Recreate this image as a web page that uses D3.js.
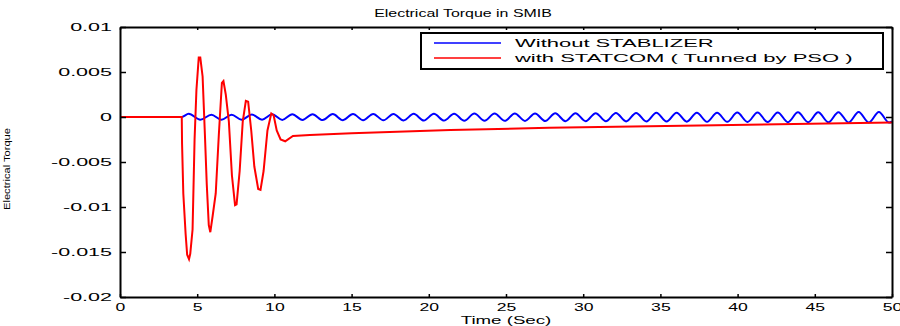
<!DOCTYPE html>
<html>
<head>
<script type="text/javascript" src="https://cdn.jsdelivr.net/npm/d3@7/dist/d3.min.js"></script>
<style>
  body { margin: 0; background: #fff; }
  text { font-family: "Liberation Sans", Arial, sans-serif; fill: #000; }
  .axis path, .axis line { stroke: #000; }
</style>
</head>
<body>
<div id="chart"></div>
<script>
// data
var xTicks = [0, 5, 10, 15, 20, 25, 30, 35, 40, 45, 50];
var yTicks = [0.01, 0.005, 0, -0.005, -0.01, -0.015, -0.02];
var yTickLabels = ['0.01', '0.005', '0', '-0.005', '-0.01', '-0.015', '-0.02'];
var seriesNames = ['Without STABLIZER', 'with STATCOM ( Tunned by PSO )'];

// blue: peaks and troughs of the growing oscillation
var blueTime = [0, 4.0, 4.45, 5.2, 5.92, 6.57, 7.23, 7.88, 8.54, 9.2,
  9.85, 10.51, 11.16, 11.82, 12.47, 13.13, 13.78, 14.44, 15.09, 15.75,
  16.40, 17.06, 17.71, 18.37, 19.02, 19.68, 20.33, 20.99, 21.64, 22.30,
  22.95, 23.61, 24.26, 24.92, 25.57, 26.23, 26.88, 27.54, 28.19, 28.85,
  29.50, 30.16, 30.81, 31.47, 32.12, 32.78, 33.43, 34.09, 34.74, 35.40,
  36.05, 36.71, 37.36, 38.02, 38.67, 39.33, 39.98, 40.64, 41.29, 41.95,
  42.60, 43.26, 43.91, 44.57, 45.22, 45.88, 46.53, 47.19, 47.84, 48.50,
  49.15, 49.81, 50];
var blueValue = [0, 0, 0.00035, -0.0003, 0.00025, -0.0003, 0.00025, -0.0003, 0.00027, -0.0003,
  0.0003, -0.00032, 0.0003, -0.00033, 0.00031, -0.00034, 0.00032, -0.00035, 0.00033, -0.00036,
  0.00034, -0.00037, 0.00034, -0.00038, 0.00035, -0.00039, 0.00036, -0.0004, 0.00037, -0.00041,
  0.00038, -0.00042, 0.00039, -0.00043, 0.0004, -0.00044, 0.0004, -0.00045, 0.00041, -0.00046,
  0.00042, -0.00047, 0.00043, -0.00048, 0.00044, -0.00049, 0.00045, -0.0005, 0.00046, -0.00051,
  0.00047, -0.00052, 0.00048, -0.00053, 0.00048, -0.00054, 0.00049, -0.00055, 0.0005, -0.00056,
  0.00051, -0.00057, 0.00052, -0.00058, 0.00053, -0.00059, 0.00054, -0.0006, 0.00055, -0.00061,
  0.00056, -0.00062, -0.0005];

// red: damped swings then slow recovery
var redTime = [0, 4.0, 4.02, 4.1, 4.25, 4.35, 4.47, 4.55, 4.7, 4.83, 4.95, 5.1, 5.2, 5.35,
  5.5, 5.62, 5.75, 5.85, 6.0, 6.2, 6.4, 6.6, 6.7, 6.85, 7.05, 7.25, 7.45, 7.55, 7.75,
  7.95, 8.15, 8.3, 8.5, 8.7, 8.95, 9.1, 9.3, 9.55, 9.8, 9.95, 10.15, 10.4, 10.7, 11.2,
  12.3, 15, 21.4, 27.8, 38.6, 50];
var redValue = [0, 0, -0.003, -0.0085, -0.013, -0.0153, -0.0158, -0.0152, -0.0125, -0.0025, 0.003, 0.0066, 0.0066, 0.0045,
  -0.002, -0.0075, -0.012, -0.0128, -0.011, -0.0085, -0.002, 0.0038, 0.004, 0.0025, -0.0005, -0.0065, -0.0098, -0.0097, -0.006,
  -0.0005, 0.0018, 0.0017, -0.0015, -0.0055, -0.008, -0.0081, -0.006, -0.0015, 0.0004, 0.0002, -0.0015, -0.0025, -0.0027, -0.0021,
  -0.002, -0.0018, -0.00145, -0.0012, -0.00093, -0.0006];

var width = 900, height = 326;
var margin = {top: 27, right: 8, bottom: 29, left: 120};

var svg = d3.select('#chart').append('svg')
  .attr('width', width)
  .attr('height', height);

var x = d3.scaleLinear().domain([0, 50]).range([margin.left, width - margin.right]);
var y = d3.scaleLinear().domain([-0.02, 0.01]).range([height - margin.bottom, margin.top]);

// stretch text horizontally like the source image
function stretch(sel, s) {
  sel.attr('transform', function() {
    var old = d3.select(this).attr('transform') || '';
    return old + ' scale(' + s + ',1)';
  });
}

// lines
var line = d3.line()
  .x(function(d) { return x(d[0]); })
  .y(function(d) { return y(d[1]); });

var blueData = blueTime.map(function(t, i) { return [t, blueValue[i]]; });
var redData = redTime.map(function(t, i) { return [t, redValue[i]]; });

svg.append('path')
  .attr('d', line.curve(d3.curveMonotoneX)(blueData))
  .attr('fill', 'none')
  .attr('stroke', '#0000ff')
  .attr('stroke-width', 2);

svg.append('path')
  .attr('d', line.curve(d3.curveLinear)(redData))
  .attr('fill', 'none')
  .attr('stroke', '#ff0000')
  .attr('stroke-width', 2);

// axes, ticks pointing inward
var bottom = svg.append('g').attr('class', 'axis')
  .attr('transform', 'translate(0,' + y.range()[0] + ')')
  .call(d3.axisBottom(x).tickValues(xTicks).tickSize(-3).tickPadding(6).tickSizeOuter(0));
bottom.selectAll('text').style('font-size', '11px');
stretch(bottom.selectAll('text'), 1.6);

svg.append('g').attr('class', 'axis')
  .attr('transform', 'translate(0,' + y.range()[1] + ')')
  .call(d3.axisTop(x).tickValues(xTicks).tickSize(-3).tickFormat('').tickSizeOuter(0));

var left = svg.append('g').attr('class', 'axis')
  .attr('transform', 'translate(' + x.range()[0] + ',0)')
  .call(d3.axisLeft(y).tickValues(yTicks).tickSize(-6).tickPadding(8).tickSizeOuter(0)
    .tickFormat(function(d, i) { return yTickLabels[i]; }));
left.selectAll('text').style('font-size', '10.5px').attr('x', -8 / 2.05);
stretch(left.selectAll('text'), 2.05);

svg.append('g').attr('class', 'axis')
  .attr('transform', 'translate(' + x.range()[1] + ',0)')
  .call(d3.axisRight(y).tickValues(yTicks).tickSize(-6).tickFormat('').tickSizeOuter(0));

svg.selectAll('.axis path').attr('stroke-width', 2);
svg.selectAll('.axis line').attr('stroke-width', 1.5);

// title and labels
svg.append('text')
  .attr('transform', 'translate(' + 463 + ',17)')
  .attr('text-anchor', 'middle')
  .style('font-size', '11px')
  .text('Electrical Torque in SMIB')
  .call(stretch, 1.45);

svg.append('text')
  .attr('transform', 'translate(' + x(25) + ',324)')
  .attr('text-anchor', 'middle')
  .style('font-size', '11px')
  .text('Time (Sec)')
  .call(stretch, 1.7);

svg.append('text')
  .attr('transform', 'translate(10,169) rotate(-90)')
  .attr('text-anchor', 'middle')
  .attr('textLength', 82)
  .attr('lengthAdjust', 'spacingAndGlyphs')
  .style('font-size', '9px')
  .text('Electrical Torque');

// legend
var legend = svg.append('g').attr('transform', 'translate(421,33)');
legend.append('rect')
  .attr('width', 462).attr('height', 36)
  .attr('fill', '#fff').attr('stroke', '#000').attr('stroke-width', 2);

var colors = ['#0000ff', '#ff0000'];
var rows = legend.selectAll('.row').data(seriesNames).enter()
  .append('g').attr('class', 'row')
  .attr('transform', function(d, i) { return 'translate(0,' + (10 + i * 15) + ')'; });
rows.append('line')
  .attr('x1', 13).attr('x2', 80)
  .attr('stroke', function(d, i) { return colors[i]; })
  .attr('stroke-width', 1.5);
rows.append('text')
  .attr('transform', 'translate(94,4)')
  .style('font-size', '11px')
  .text(function(d) { return d; })
  .call(stretch, 2.0);
</script>
</body>
</html>
